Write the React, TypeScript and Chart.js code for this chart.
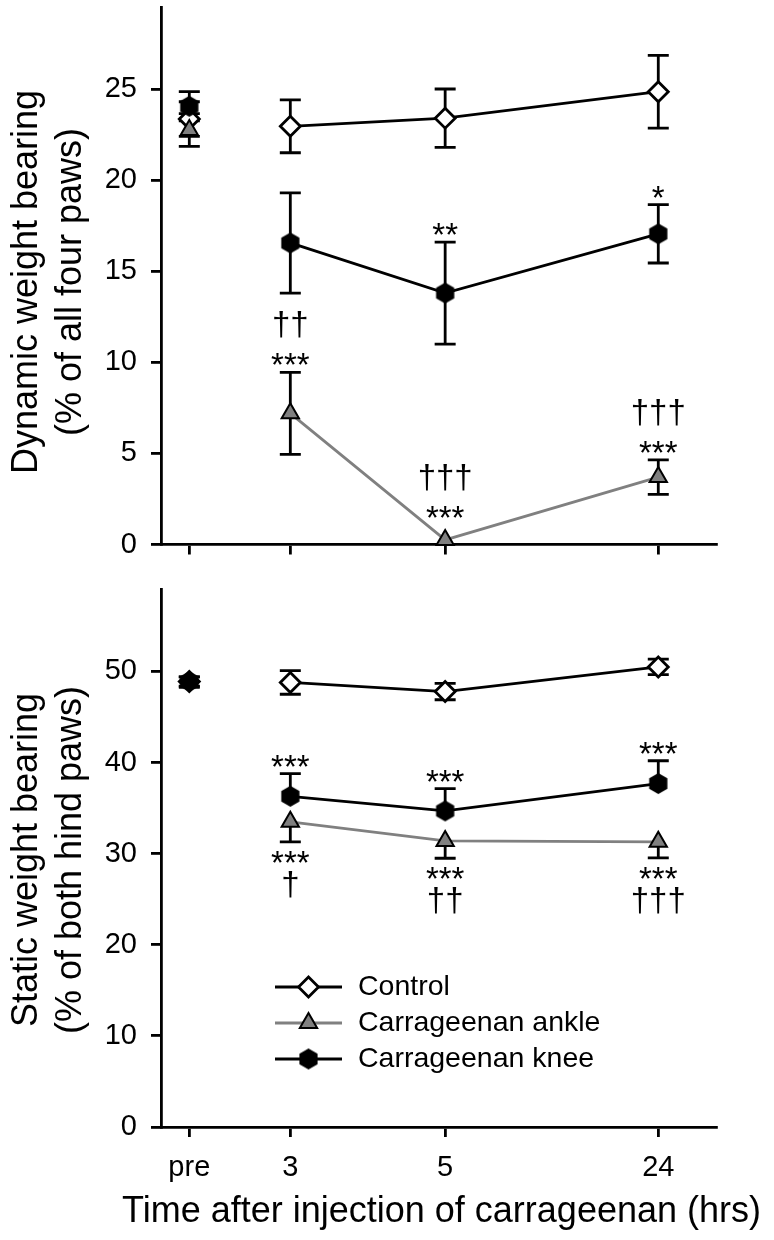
import React, { useEffect, useRef } from 'react';
import { Chart, registerables } from 'chart.js';

Chart.register(...registerables);

const FONT = '"Liberation Sans", Arial, Helvetica, sans-serif';

// ---- categories / axis ----
const timeLabels = ['pre', '3', '5', '24'];
const timeAxisPos = [5.1, 23.3, 51.2, 89.6]; // positions of the categories on a 0-100 axis
const seriesNames = ['Control', 'Carrageenan ankle', 'Carrageenan knee'];
const xTitle = 'Time after injection of carrageenan (hrs)';
const dynTitle = ['Dynamic weight bearing', '(% of all four paws)'];
const staTitle = ['Static weight bearing', '(% of both hind paws)'];

// ---- dynamic weight bearing (top) ----
const dynYTicks = [0, 5, 10, 15, 20, 25];
const dynControl = [23.35, 22.95, 23.4, 24.85];
const dynControlSem = [0.95, 1.45, 1.6, 2.0];
const dynAnkle = [22.75, 7.2, 0.25, 3.7];
const dynAnkleSem = [0.9, 2.25, 0, 0.95];
const dynKnee = [24.05, 16.55, 13.8, 17.05];
const dynKneeSem = [0.8, 2.75, 2.8, 1.6];

// ---- static weight bearing (bottom) ----
const staYTicks = [0, 10, 20, 30, 40, 50];
const staControl = [48.9, 48.8, 47.8, 50.5];
const staControlSem = [0.5, 1.3, 0.9, 0.85];
const staAnkle = [48.8, 33.5, 31.4, 31.3];
const staAnkleSem = [0.5, 2.2, 1.9, 1.75];
const staKnee = [48.9, 36.3, 34.7, 37.7];
const staKneeSem = [0.5, 2.5, 2.45, 2.5];

// ---- significance marks ----
type Mark = { series: number; point: number; side: 'above' | 'below'; lines: string[] };
const dynMarks: Mark[] = [
  { series: 1, point: 1, side: 'above', lines: ['††', '***'] },
  { series: 1, point: 2, side: 'above', lines: ['†††', '***'] },
  { series: 1, point: 3, side: 'above', lines: ['†††', '***'] },
  { series: 2, point: 2, side: 'above', lines: ['**'] },
  { series: 2, point: 3, side: 'above', lines: ['*'] },
];
const staMarks: Mark[] = [
  { series: 2, point: 1, side: 'above', lines: ['***'] },
  { series: 2, point: 2, side: 'above', lines: ['***'] },
  { series: 2, point: 3, side: 'above', lines: ['***'] },
  { series: 1, point: 1, side: 'below', lines: ['***', '†'] },
  { series: 1, point: 2, side: 'below', lines: ['***', '††'] },
  { series: 1, point: 3, side: 'below', lines: ['***', '†††'] },
];

const GRAY = '#808080';
const LW = 2.8;
const TICK_FONT = 29;
const TITLE_FONT = 36;

function makeHexagon(R: number) {
  const size = Math.ceil(2 * R + 4);
  const c = document.createElement('canvas');
  c.width = size;
  c.height = size;
  const ctx = c.getContext('2d')!;
  ctx.beginPath();
  for (let i = 0; i < 6; i++) {
    const a = -Math.PI / 2 + (i * Math.PI) / 3;
    const px = size / 2 + R * Math.cos(a);
    const py = size / 2 + R * Math.sin(a);
    if (i === 0) ctx.moveTo(px, py);
    else ctx.lineTo(px, py);
  }
  ctx.closePath();
  ctx.fillStyle = '#000';
  ctx.fill();
  return c;
}

type Dir = { up: boolean; down: boolean };

function errorBarPlugin(series: number[][], sems: number[][], dirs: Dir[]) {
  return {
    id: 'errbars',
    beforeDatasetsDraw(chart: any) {
      const ctx = chart.ctx;
      const ys = chart.scales.y;
      const xs = chart.scales.x;
      ctx.save();
      ctx.strokeStyle = '#000';
      ctx.lineWidth = LW;
      ctx.lineCap = 'butt';
      series.forEach((vals, si) => {
        vals.forEach((v, i) => {
          const s = sems[si][i];
          if (!s) return;
          const x = xs.getPixelForValue(timeAxisPos[i]);
          const y0 = ys.getPixelForValue(v);
          const hw = 10.5;
          if (dirs[si].up) {
            const y1 = ys.getPixelForValue(v + s);
            ctx.beginPath();
            ctx.moveTo(x, y0);
            ctx.lineTo(x, y1);
            ctx.moveTo(x - hw, y1);
            ctx.lineTo(x + hw, y1);
            ctx.stroke();
          }
          if (dirs[si].down) {
            const y2 = ys.getPixelForValue(v - s);
            ctx.beginPath();
            ctx.moveTo(x, y0);
            ctx.lineTo(x, y2);
            ctx.moveTo(x - hw, y2);
            ctx.lineTo(x + hw, y2);
            ctx.stroke();
          }
        });
      });
      ctx.restore();
    },
  };
}

function marksPlugin(series: number[][], sems: number[][], dirs: Dir[], marks: Mark[]) {
  const FIRST_ABOVE = 7;
  const FIRST_BELOW = 9;
  const GAP_ABOVE = 15;
  const GAP_BELOW = 8;
  const R = 15;
  return {
    id: 'sigmarks',
    afterDatasetsDraw(chart: any) {
      const ctx = chart.ctx;
      const ys = chart.scales.y;
      const xs = chart.scales.x;
      ctx.save();
      ctx.fillStyle = '#000';
      ctx.font = `33px ${FONT}`;
      ctx.textAlign = 'center';
      ctx.textBaseline = 'alphabetic';
      marks.forEach((m) => {
        const v = series[m.series][m.point];
        const s = sems[m.series][m.point];
        const x = xs.getPixelForValue(timeAxisPos[m.point]);
        const yv = ys.getPixelForValue(v);
        if (m.side === 'above') {
          const eTop = dirs[m.series].up && s ? ys.getPixelForValue(v + s) : yv;
          let cursor = Math.min(eTop, yv - R) - FIRST_ABOVE;
          for (let k = m.lines.length - 1; k >= 0; k--) {
            const t = m.lines[k];
            const mt = ctx.measureText(t);
            const asc = mt.actualBoundingBoxAscent;
            const desc = mt.actualBoundingBoxDescent;
            ctx.fillText(t, x, cursor - desc);
            cursor = cursor - desc - asc - GAP_ABOVE;
          }
        } else {
          const eBot = dirs[m.series].down && s ? ys.getPixelForValue(v - s) : yv;
          let cursor = Math.max(eBot, yv + R) + FIRST_BELOW;
          for (let k = 0; k < m.lines.length; k++) {
            const t = m.lines[k];
            const mt = ctx.measureText(t);
            const asc = mt.actualBoundingBoxAscent;
            const desc = mt.actualBoundingBoxDescent;
            ctx.fillText(t, x, cursor + asc);
            cursor = cursor + asc + desc + GAP_BELOW;
          }
        }
      });
      ctx.restore();
    },
  };
}

function legendPlugin(hex: HTMLCanvasElement) {
  return {
    id: 'customLegend',
    afterDraw(chart: any) {
      const ctx = chart.ctx;
      const rows = [407, 443, 479];
      const x0 = 275;
      const x1 = 342;
      const xm = 308.5;
      const xt = 358;
      ctx.save();
      seriesNames.forEach((name, i) => {
        const y = rows[i];
        ctx.beginPath();
        ctx.moveTo(x0, y);
        ctx.lineTo(x1, y);
        ctx.strokeStyle = i === 1 ? GRAY : '#000';
        ctx.lineWidth = LW;
        ctx.stroke();
        if (i === 0) {
          const r = 10;
          ctx.beginPath();
          ctx.moveTo(xm - r, y);
          ctx.lineTo(xm, y - r);
          ctx.lineTo(xm + r, y);
          ctx.lineTo(xm, y + r);
          ctx.closePath();
          ctx.fillStyle = '#fff';
          ctx.fill();
          ctx.strokeStyle = '#000';
          ctx.lineWidth = LW;
          ctx.stroke();
        } else if (i === 1) {
          const r = 10;
          ctx.beginPath();
          for (let k = 0; k < 3; k++) {
            const a = (k * 2 * Math.PI) / 3;
            const px = xm + Math.sin(a) * r;
            const py = y - Math.cos(a) * r;
            if (k === 0) ctx.moveTo(px, py);
            else ctx.lineTo(px, py);
          }
          ctx.closePath();
          ctx.fillStyle = GRAY;
          ctx.fill();
          ctx.strokeStyle = '#000';
          ctx.lineWidth = 2;
          ctx.stroke();
        } else {
          ctx.drawImage(hex, xm - hex.width / 2, y - hex.height / 2);
        }
        ctx.fillStyle = '#000';
        ctx.font = `28.5px ${FONT}`;
        ctx.textAlign = 'left';
        ctx.textBaseline = 'middle';
        ctx.fillText(name, xt, y);
      });
      ctx.restore();
    },
  };
}

function titlesPlugin(yLines: string[], yCenter: number, xTitleY: number | null) {
  return {
    id: 'axisTitles',
    afterDraw(chart: any) {
      const ctx = chart.ctx;
      const a = chart.chartArea;
      ctx.save();
      ctx.fillStyle = '#000';
      ctx.font = `${TITLE_FONT}px ${FONT}`;
      ctx.textAlign = 'center';
      ctx.textBaseline = 'middle';
      const xs = [27.5, 71.5];
      yLines.forEach((t, i) => {
        ctx.save();
        ctx.translate(xs[i], yCenter);
        ctx.rotate(-Math.PI / 2);
        ctx.fillText(t, 0, 0);
        ctx.restore();
      });
      if (xTitleY !== null) {
        ctx.fillText(xTitle, (a.left + a.right) / 2 + 3, xTitleY);
      }
      ctx.restore();
    },
  };
}

function buildDatasets(series: number[][], hex: HTMLCanvasElement) {
  const colors = ['#000', GRAY, '#000'];
  const styles: any[] = ['rectRot', 'triangle', hex];
  const fills = ['#fff', GRAY, '#000'];
  const orders = [3, 2, 1];
  return series.map((vals, si) => ({
    label: seriesNames[si],
    data: vals.map((v, i) => ({ x: timeAxisPos[i], y: v })),
    borderColor: colors[si],
    borderWidth: LW,
    segment: {
      borderColor: (c: any) => (c.p0DataIndex === 0 ? 'rgba(0,0,0,0)' : colors[si]),
    },
    pointStyle: styles[si],
    pointRadius: 10,
    pointBackgroundColor: fills[si],
    pointBorderColor: '#000',
    pointBorderWidth: si === 1 ? 2 : LW,
    tension: 0,
    fill: false,
    clip: false,
    order: orders[si],
  }));
}

function xScale(showLabels: boolean, height: number) {
  return {
    type: 'linear',
    min: 0,
    max: 100,
    afterBuildTicks: (s: any) => {
      s.ticks = timeAxisPos.map((v) => ({ value: v }));
    },
    afterFit: (s: any) => {
      s.height = height;
      s.paddingLeft = 0;
      s.paddingRight = 0;
    },
    ticks: {
      autoSkip: false,
      maxRotation: 0,
      color: '#000',
      padding: 14,
      font: { family: FONT, size: TICK_FONT },
      callback: (_v: any, i: number) => (showLabels ? timeLabels[i] : ''),
    },
    grid: { drawOnChartArea: false, drawTicks: true, tickLength: 10, color: '#000', lineWidth: LW },
    border: { display: true, color: '#000', width: LW },
    title: { display: false },
  };
}

function yScale(max: number, ticks: number[]) {
  return {
    type: 'linear',
    min: 0,
    max,
    afterBuildTicks: (s: any) => {
      s.ticks = ticks.map((v) => ({ value: v }));
    },
    afterFit: (s: any) => {
      s.width = 161;
      s.paddingTop = 0;
      s.paddingBottom = 0;
    },
    ticks: { color: '#000', padding: 14, font: { family: FONT, size: TICK_FONT } },
    grid: { drawOnChartArea: false, drawTicks: true, tickLength: 10, color: '#000', lineWidth: LW },
    border: { display: true, color: '#000', width: LW },
    title: { display: false },
  };
}

const TOP_H = 580;
const BOT_H = 660;

export default function App() {
  const topRef = useRef<HTMLCanvasElement | null>(null);
  const botRef = useRef<HTMLCanvasElement | null>(null);

  useEffect(() => {
    const hex = makeHexagon(10.5);
    const dynSeries = [dynControl, dynAnkle, dynKnee];
    const dynSems = [dynControlSem, dynAnkleSem, dynKneeSem];
    const dynDirs: Dir[] = [
      { up: true, down: true },
      { up: true, down: true },
      { up: true, down: true },
    ];
    const staSeries = [staControl, staAnkle, staKnee];
    const staSems = [staControlSem, staAnkleSem, staKneeSem];
    const staDirs: Dir[] = [
      { up: true, down: true },
      { up: false, down: true },
      { up: true, down: false },
    ];

    const common = {
      responsive: false,
      animation: false,
      events: [],
      plugins: { legend: { display: false }, tooltip: { enabled: false } },
    };

    const top = new Chart(topRef.current!, {
      type: 'line',
      data: { datasets: buildDatasets(dynSeries, hex) as any },
      options: {
        ...common,
        layout: { autoPadding: false, padding: { top: 7, right: 58, left: 0, bottom: 0 } },
        scales: {
          x: xScale(false, TOP_H - 7 - 537.5) as any,
          y: yScale(29.5, dynYTicks) as any,
        },
      } as any,
      plugins: [
        errorBarPlugin(dynSeries, dynSems, dynDirs),
        marksPlugin(dynSeries, dynSems, dynDirs, dynMarks),
        titlesPlugin(dynTitle, 282, null),
      ],
    });

    const bot = new Chart(botRef.current!, {
      type: 'line',
      data: { datasets: buildDatasets(staSeries, hex) as any },
      options: {
        ...common,
        layout: { autoPadding: false, padding: { top: 9.5, right: 58, left: 0, bottom: 0 } },
        scales: {
          x: xScale(true, BOT_H - 9.5 - 537.5) as any,
          y: yScale(59, staYTicks) as any,
        },
      } as any,
      plugins: [
        errorBarPlugin(staSeries, staSems, staDirs),
        marksPlugin(staSeries, staSems, staDirs, staMarks),
        legendPlugin(hex),
        titlesPlugin(staTitle, 280, 632),
      ],
    });

    return () => {
      top.destroy();
      bot.destroy();
    };
  }, []);

  return (
    <div style={{ position: 'absolute', left: 0, top: 0, width: 774, height: 1240, background: '#fff' }}>
      <canvas
        ref={topRef}
        width={774}
        height={TOP_H}
        style={{ position: 'absolute', left: 0, top: 0, width: 774, height: TOP_H }}
      />
      <canvas
        ref={botRef}
        width={774}
        height={BOT_H}
        style={{ position: 'absolute', left: 0, top: TOP_H, width: 774, height: BOT_H }}
      />
    </div>
  );
}
